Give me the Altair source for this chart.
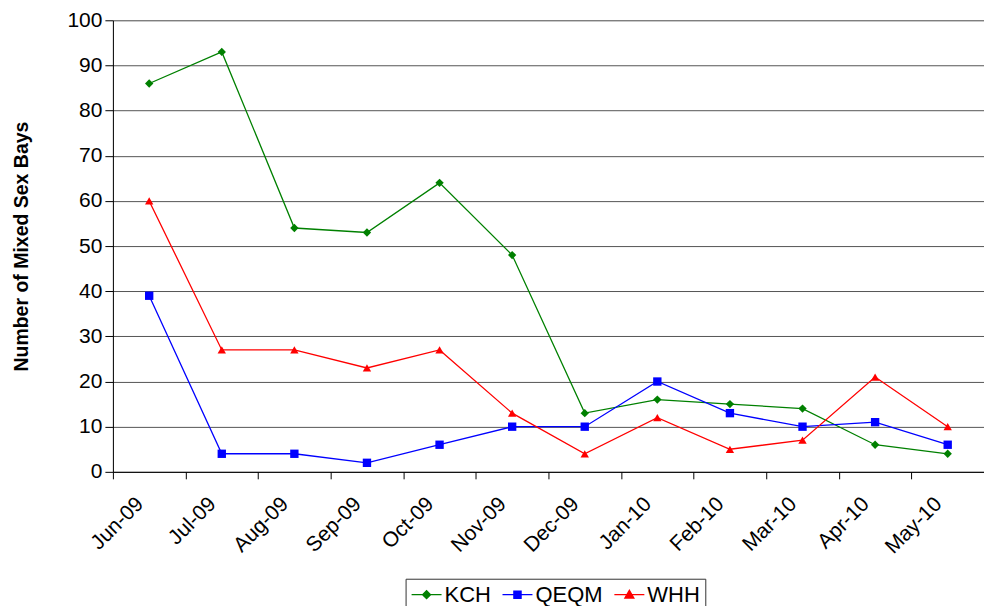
import altair as alt
import pandas as pd

months = ["Jun-09", "Jul-09", "Aug-09", "Sep-09", "Oct-09", "Nov-09",
          "Dec-09", "Jan-10", "Feb-10", "Mar-10", "Apr-10", "May-10"]
kch = [86, 93, 54, 53, 64, 48, 13, 16, 15, 14, 6, 4]
qeqm = [39, 4, 4, 2, 6, 10, 10, 20, 13, 10, 11, 6]
whh = [60, 27, 27, 23, 27, 13, 4, 12, 5, 7, 21, 10]
series = ["KCH", "QEQM", "WHH"]
colors = ["#008000", "#0000FF", "#FF0000"]
shapes = ["diamond", "square", "triangle-up"]
# legend glyphs: a line segment through the marker
legend_glyphs = [
    "M-1.5,0L1.5,0M0,-0.4L0.4,0L0,0.4L-0.4,0Z",
    "M-1.5,0L1.5,0M-0.36,-0.36L0.36,-0.36L0.36,0.36L-0.36,0.36Z",
    "M-1.5,0L1.5,0M0,-0.45L0.45,0.33L-0.45,0.33Z",
]

rows = []
for name, vals in zip(series, [kch, qeqm, whh]):
    for i, (m, v) in enumerate(zip(months, vals)):
        rows.append({"Month": m, "Idx": i, "Value": v, "Hospital": name})
df = pd.DataFrame(rows)

font = "Liberation Sans"
month_js = "[" + ",".join("'%s'" % m for m in months) + "]"
tick_vals = [i - 0.5 for i in range(len(months))]

x = alt.X("Idx:Q",
          scale=alt.Scale(domain=[-0.5, len(months) - 0.5], nice=False, zero=False),
          axis=alt.Axis(title=None, values=tick_vals,
                        labelExpr=month_js + "[round(datum.value + 0.5)]",
                        labelAngle=-45, labelAlign="right",
                        labelBaseline="top", labelFontSize=21, labelFont=font,
                        labelColor="black", tickColor="black",
                        tickSize=7, domainColor="black", grid=False,
                        labelPadding=14, labelOffset=19, labelFlush=False,
                        labelOverlap=False))
y = alt.Y("Value:Q", scale=alt.Scale(domain=[0, 100], nice=False),
          axis=alt.Axis(title="Number of Mixed Sex Bays", titleFontSize=19.5,
                        titleFont=font, titleFontWeight="bold", titleColor="black",
                        titlePadding=35, values=list(range(0, 101, 10)),
                        labelFontSize=21, labelFont=font, labelColor="black",
                        tickColor="black", tickSize=8, domainColor="black",
                        gridColor="#555555", gridOpacity=1, labelPadding=3))

color_scale = alt.Scale(domain=series, range=colors)

legend = alt.Legend(title=None, orient="none", legendX=293, legendY=559,
                    direction="horizontal", labelFontSize=22,
                    labelFont=font, labelColor="black",
                    strokeColor="#333333", padding=5, columnPadding=8,
                    symbolSize=400, symbolStrokeWidth=1.3,
                    symbolOffset=5, labelOffset=7)

lines = alt.Chart(df).mark_line(strokeWidth=1.3).encode(
    x=x, y=y,
    color=alt.Color("Hospital:N", scale=color_scale, legend=None),
    detail="Hospital:N")
points = alt.Chart(df).mark_point(filled=True, opacity=1, size=70).encode(
    x=x, y=y,
    color=alt.Color("Hospital:N", scale=color_scale, legend=None),
    shape=alt.Shape("Hospital:N", scale=alt.Scale(domain=series, range=shapes),
                    legend=None))
legend_layer = alt.Chart(df).transform_filter("false").mark_point(
    filled=True, opacity=1, strokeWidth=1.3).encode(
    x=x, y=y,
    fill=alt.Fill("Hospital:N", scale=color_scale, legend=legend),
    stroke=alt.Stroke("Hospital:N", scale=color_scale, legend=legend),
    shape=alt.Shape("Hospital:N",
                    scale=alt.Scale(domain=series, range=legend_glyphs),
                    legend=legend))

chart = alt.layer(lines, points, legend_layer).resolve_scale(
    shape="independent"
).resolve_legend(
    color="independent", shape="independent", fill="independent",
    stroke="independent"
).properties(
    width=872, height=452,
    padding={"left": 105, "top": 12, "right": 0, "bottom": 140},
    autosize=alt.AutoSizeParams(type="none"),
).configure_view(stroke=None).configure(background="white")

chart.save("out.html", embed_options={"renderer": "svg", "actions": False})
